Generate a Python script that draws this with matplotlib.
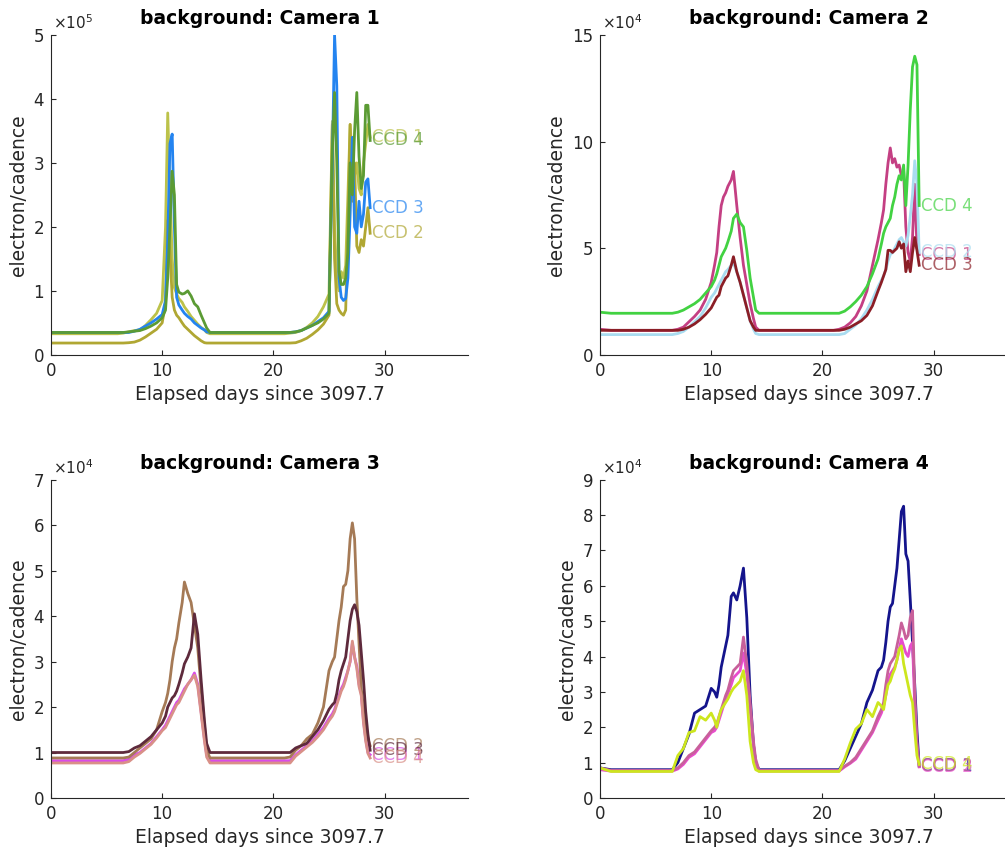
import numpy as np
import matplotlib.pyplot as plt

# elapsed days (shared by all panels)
days = [0, 1, 2, 3, 4, 5, 6, 6.5,
        7, 7.5, 8, 8.5, 9, 9.5, 10,
        10.3, 10.5, 10.7, 10.9, 11.1, 11.3, 11.5, 11.8,
        12, 12.3, 12.6, 12.9, 13.2, 13.5, 13.8, 14.0, 14.3,
        15, 16, 17, 18, 19, 20, 21, 21.5,
        22, 22.5, 23, 23.5, 24, 24.5, 25,
        25.3, 25.5, 25.7, 25.9, 26.1, 26.3, 26.5, 26.7, 26.9,
        27.1, 27.3, 27.5, 27.7, 27.9, 28.1, 28.3, 28.5, 28.7]

# background values, units of 1e4 electron/cadence
cam1_ccd1 = [3.3, 3.3, 3.3, 3.3, 3.3, 3.3, 3.3, 3.4,
             3.6, 3.8, 3.9, 4.6, 5.5, 6.5, 8.5,
             20, 37.8, 26, 15, 10.5, 9.5, 8.8, 8.2,
             7.5, 6.8, 6.0, 5.4, 4.8, 4.3, 3.9, 3.5, 3.3,
             3.3, 3.3, 3.3, 3.3, 3.3, 3.3, 3.3, 3.4,
             3.5, 3.8, 4.3, 5.0, 6.0, 7.5, 9.5,
             36.5, 20, 12, 10, 13, 12, 14, 25, 36,
             30, 28, 30, 26, 25, 30, 33, 36, 34]
cam1_ccd2 = [1.85, 1.85, 1.85, 1.85, 1.85, 1.85, 1.85, 1.85,
             1.9, 2.0, 2.3, 2.8, 3.4, 4.0, 5.0,
             8, 21, 16, 9, 7, 6.2, 5.8, 5.0,
             4.5, 4.0, 3.5, 3.0, 2.6, 2.2, 1.9, 1.85, 1.85,
             1.85, 1.85, 1.85, 1.85, 1.85, 1.85, 1.85, 1.85,
             1.9, 2.2, 2.6, 3.2, 3.9, 4.8, 6.2,
             36, 15, 8, 7, 6.5, 6.2, 7, 20, 36,
             24, 30, 17, 16, 18, 17, 20, 23, 19]
cam1_ccd3 = [3.5, 3.5, 3.5, 3.5, 3.5, 3.5, 3.5, 3.5,
             3.5, 3.7, 4.0, 4.5, 5.0, 5.6, 6.3,
             8.5, 18, 33, 34.5, 20, 9, 7.8, 7.0,
             6.5, 6.0, 5.6, 5.0, 4.6, 4.2, 3.9, 3.6, 3.5,
             3.5, 3.5, 3.5, 3.5, 3.5, 3.5, 3.5, 3.5,
             3.6, 3.8, 4.2, 4.6, 5.2, 5.8, 6.8,
             30, 50, 42, 12, 9, 8.5, 8.8, 12, 22,
             34, 20, 19, 24, 20, 22, 27, 27.5, 23]
cam1_ccd4 = [3.5, 3.5, 3.5, 3.5, 3.5, 3.5, 3.5, 3.5,
             3.6, 3.7, 3.8, 4.1, 4.5, 5.0, 5.8,
             7, 12, 20, 28.7, 25, 11, 9.8, 9.5,
             9.6, 10, 9.2, 8.0, 7.5, 6.2, 5.0, 4.2, 3.5,
             3.5, 3.5, 3.5, 3.5, 3.5, 3.5, 3.5, 3.5,
             3.6, 3.8, 4.2, 4.6, 5.0, 5.6, 6.5,
             32, 41, 30, 13, 11, 11, 12, 16, 30,
             25, 35, 41, 31, 26, 28, 39, 39, 33.5]

cam2_ccd1 = [1.2, 1.15, 1.15, 1.15, 1.15, 1.15, 1.15, 1.15,
             1.2, 1.3, 1.55, 1.8, 2.1, 2.6, 3.4,
             4.2, 4.8, 6.0, 7.0, 7.4, 7.6, 7.9, 8.2,
             8.6, 7.0, 5.5, 4.2, 3.3, 2.4, 1.7, 1.3, 1.15,
             1.15, 1.15, 1.15, 1.15, 1.15, 1.15, 1.15, 1.2,
             1.3, 1.5, 1.8, 2.3, 3.0, 4.2, 5.4,
             6.2, 6.8, 8.0, 9.0, 9.7, 9.0, 9.2, 8.8, 8.9,
             8.4, 8.6, 6.0, 4.8, 4.4, 5.5, 8.0, 5.0, 4.7]
cam2_ccd2 = [0.95, 0.95, 0.95, 0.95, 0.95, 0.95, 0.95, 0.95,
             1.0, 1.1, 1.3, 1.55, 1.8, 2.2, 2.7,
             2.9, 3.1, 3.3, 3.5, 3.7, 3.9, 4.0, 4.2,
             4.3, 3.9, 3.4, 2.8, 2.2, 1.6, 1.2, 1.0, 0.95,
             0.95, 0.95, 0.95, 0.95, 0.95, 0.95, 0.95, 0.95,
             1.0, 1.2, 1.4, 1.7, 2.1, 2.6, 3.2,
             3.5, 3.7, 4.0, 4.4, 4.7, 4.8, 5.0, 5.2, 5.4,
             5.5, 5.3, 5.1, 5.6, 6.5, 7.5, 9.1, 8.0, 4.8]
cam2_ccd3 = [1.15, 1.15, 1.15, 1.15, 1.15, 1.15, 1.15, 1.15,
             1.15, 1.2, 1.3, 1.45, 1.65, 1.9, 2.2,
             2.5, 2.7, 2.8, 3.2, 3.4, 3.6, 3.7, 4.2,
             4.6, 3.9, 3.4, 2.8, 2.2, 1.6, 1.3, 1.15, 1.15,
             1.15, 1.15, 1.15, 1.15, 1.15, 1.15, 1.15, 1.15,
             1.2, 1.3, 1.45, 1.6, 1.85, 2.3, 3.0,
             3.4, 3.7, 4.0, 4.9, 4.9, 4.8, 4.9, 5.0, 5.3,
             5.0, 5.2, 3.9, 4.4, 3.9, 4.8, 5.5, 4.9, 4.2]
cam2_ccd4 = [2.0, 1.95, 1.95, 1.95, 1.95, 1.95, 1.95, 1.95,
             2.0, 2.1, 2.25, 2.4, 2.6, 2.9, 3.2,
             3.5, 3.8, 4.2, 4.6, 4.8, 5.0, 5.3, 5.8,
             6.4, 6.6, 6.2, 6.0, 4.9, 3.6, 2.7, 2.1, 1.95,
             1.95, 1.95, 1.95, 1.95, 1.95, 1.95, 1.95, 1.95,
             2.05, 2.25, 2.5, 2.8, 3.2, 3.8, 4.5,
             5.2, 5.7, 6.0, 6.2, 6.4, 7.0, 7.4, 8.0, 8.4,
             8.2, 8.9, 7.0, 8.9, 11.5, 13.5, 14.0, 13.6, 7.0]

cam3_ccd1 = [0.82, 0.82, 0.82, 0.82, 0.82, 0.82, 0.82, 0.82,
             0.85, 0.95, 1.0, 1.1, 1.2, 1.35, 1.5,
             1.6, 1.7, 1.8, 1.9, 2.0, 2.1, 2.15, 2.3,
             2.4, 2.5, 2.6, 2.75, 2.5, 1.9, 1.3, 0.95, 0.82,
             0.82, 0.82, 0.82, 0.82, 0.82, 0.82, 0.82, 0.82,
             0.95, 1.05, 1.15, 1.25, 1.4, 1.55, 1.75,
             1.85, 1.95, 2.1, 2.25, 2.4, 2.5, 2.65, 2.8, 3.0,
             3.4, 3.1, 2.9, 2.5, 2.3, 1.7, 1.3, 1.0, 0.95]
cam3_ccd2 = [0.88, 0.88, 0.88, 0.88, 0.88, 0.88, 0.88, 0.88,
             0.9, 1.0, 1.1, 1.2, 1.3, 1.5, 1.9,
             2.1, 2.3, 2.6, 3.0, 3.3, 3.5, 3.85, 4.3,
             4.75, 4.5, 4.3, 3.8, 3.3, 2.4, 1.6, 1.05, 0.88,
             0.88, 0.88, 0.88, 0.88, 0.88, 0.88, 0.88, 0.9,
             1.05, 1.15, 1.3, 1.4, 1.65, 2.0, 2.8,
             3.0, 3.1, 3.5, 3.9, 4.2, 4.65, 4.7, 5.0, 5.7,
             6.05, 5.7, 4.4, 3.4, 2.4, 2.0, 1.6, 1.3, 1.15]
cam3_ccd3 = [1.0, 1.0, 1.0, 1.0, 1.0, 1.0, 1.0, 1.0,
             1.02, 1.1, 1.15, 1.25, 1.35, 1.5, 1.65,
             1.8, 2.0, 2.1, 2.2, 2.25, 2.35, 2.5, 2.75,
             2.95, 3.1, 3.3, 4.05, 3.6, 2.6, 1.7, 1.2, 1.0,
             1.0, 1.0, 1.0, 1.0, 1.0, 1.0, 1.0, 1.0,
             1.1, 1.15, 1.2, 1.35, 1.5, 1.7, 1.95,
             2.05, 2.1, 2.3, 2.6, 2.8, 2.95, 3.1, 3.5, 3.9,
             4.15, 4.25, 4.1, 3.8, 3.2, 2.6, 1.9, 1.4, 1.05]
cam3_ccd4 = [0.77, 0.77, 0.77, 0.77, 0.77, 0.77, 0.77, 0.77,
             0.8, 0.9, 0.98, 1.08, 1.18, 1.32, 1.48,
             1.55, 1.65, 1.75, 1.85, 1.95, 2.05, 2.1, 2.25,
             2.35, 2.5, 2.6, 2.7, 2.45, 1.85, 1.25, 0.9, 0.77,
             0.77, 0.77, 0.77, 0.77, 0.77, 0.77, 0.77, 0.77,
             0.92, 1.02, 1.12, 1.22, 1.35, 1.5, 1.7,
             1.8, 1.9, 2.05, 2.2, 2.35, 2.45, 2.6, 2.8, 3.0,
             3.45, 3.1, 2.85, 2.45, 2.25, 1.65, 1.25, 0.98, 0.88]

cam4_ccd1 = [0.85, 0.8, 0.8, 0.8, 0.8, 0.8, 0.8, 0.8,
             1.0, 1.4, 1.8, 2.4, 2.5, 2.6, 3.1,
             3.0, 2.85, 3.2, 3.7, 4.0, 4.3, 4.6, 5.7,
             5.8, 5.6, 6.0, 6.5, 5.1, 2.9, 1.5, 1.0, 0.8,
             0.8, 0.8, 0.8, 0.8, 0.8, 0.8, 0.8, 0.8,
             1.05, 1.4, 1.75, 2.1, 2.7, 3.05, 3.6,
             3.7, 3.9, 4.4, 5.0, 5.4, 5.5, 6.0, 6.5, 7.3,
             8.1, 8.25, 6.9, 6.7, 5.6, 4.4, 3.2, 1.9, 0.9]
cam4_ccd2 = [0.8, 0.76, 0.76, 0.76, 0.76, 0.76, 0.76, 0.76,
             0.82, 0.95, 1.15, 1.25, 1.45, 1.65, 1.85,
             1.9, 2.0, 2.2, 2.4, 2.6, 2.8, 2.95, 3.2,
             3.4, 3.5, 3.6, 4.1, 3.5, 2.5, 1.5, 1.0, 0.76,
             0.76, 0.76, 0.76, 0.76, 0.76, 0.76, 0.76, 0.76,
             0.88, 0.98, 1.1, 1.35, 1.6, 1.85, 2.2,
             2.4, 2.6, 2.9, 3.3, 3.5, 3.6, 3.7, 3.9, 4.2,
             4.5, 4.3, 4.1, 4.0, 4.3, 4.4, 2.6, 1.4, 0.88]
cam4_ccd3 = [0.85, 0.78, 0.78, 0.78, 0.78, 0.78, 0.78, 0.78,
             0.85, 1.0, 1.2, 1.3, 1.5, 1.7, 1.9,
             2.0, 2.1, 2.3, 2.5, 2.7, 2.9, 3.05, 3.4,
             3.6, 3.7, 3.8, 4.55, 3.8, 2.7, 1.6, 1.1, 0.78,
             0.78, 0.78, 0.78, 0.78, 0.78, 0.78, 0.78, 0.78,
             0.9, 1.0, 1.15, 1.4, 1.65, 1.9, 2.3,
             2.5, 2.7, 3.2, 3.6, 3.8, 3.9, 4.0, 4.3, 4.6,
             4.95, 4.75, 4.5, 4.6, 5.1, 5.3, 3.0, 1.6, 0.9]
cam4_ccd4 = [0.85, 0.75, 0.75, 0.75, 0.75, 0.75, 0.75, 0.75,
             1.2, 1.4, 1.85, 1.9, 2.3, 2.2, 2.4,
             2.2, 2.0, 2.3, 2.5, 2.6, 2.7, 2.8, 3.0,
             3.1, 3.2, 3.3, 3.6, 2.9, 1.6, 1.0, 0.8, 0.75,
             0.75, 0.75, 0.75, 0.75, 0.75, 0.75, 0.75, 0.75,
             1.1, 1.55, 1.95, 2.1, 2.5, 2.3, 2.7,
             2.6, 2.5, 2.9, 3.2, 3.3, 3.5, 3.65, 3.9, 4.2,
             4.3, 3.8, 3.5, 3.2, 2.9, 2.7, 1.9, 1.2, 0.95]

ccd_names = ['CCD 1', 'CCD 2', 'CCD 3', 'CCD 4']
titles = ['background: Camera 1', 'background: Camera 2',
          'background: Camera 3', 'background: Camera 4']
series = [[cam1_ccd1, cam1_ccd2, cam1_ccd3, cam1_ccd4],
          [cam2_ccd1, cam2_ccd2, cam2_ccd3, cam2_ccd4],
          [cam3_ccd1, cam3_ccd2, cam3_ccd3, cam3_ccd4],
          [cam4_ccd1, cam4_ccd2, cam4_ccd3, cam4_ccd4]]
colors = [['#bcc24a', '#b0a733', '#2484f0', '#5b9b34'],
          ['#c43f83', '#a9dcf0', '#8b1e26', '#42d242'],
          ['#d94ce8', '#a57a56', '#5e2a3c', '#d99088'],
          ['#14148c', '#e84ccc', '#c8609a', '#cde61e']]
exponents = [5, 4, 4, 4]
yticks = [[0, 1, 2, 3, 4, 5], [0, 5, 10, 15],
          [0, 1, 2, 3, 4, 5, 6, 7], [0, 1, 2, 3, 4, 5, 6, 7, 8, 9]]

positions = [[0.0507, 0.583, 0.415, 0.376], [0.597, 0.583, 0.415, 0.376],
             [0.0507, 0.0623, 0.415, 0.374], [0.597, 0.0623, 0.415, 0.374]]

axcol = '#262626'
fig = plt.figure(figsize=(10.05, 8.51), dpi=100)
x = np.array(days)

for k in range(4):
    ax = fig.add_axes(positions[k])
    scale = 10.0**exponents[k]
    for j in range(4):
        y = np.array(series[k][j]) * 1e4
        ax.plot(x, y, color=colors[k][j], lw=2.0)
        ax.text(x[-1] + 0.2, y[-1], ccd_names[j], color=colors[k][j],
                alpha=0.7, fontsize=12, va='center', ha='left')
    ax.set_xlim(0, 37.5)
    ax.set_ylim(0, yticks[k][-1] * scale)
    ax.set_xticks([0, 10, 20, 30])
    ax.set_yticks([t * scale for t in yticks[k]])
    ax.set_yticklabels([str(t) for t in yticks[k]])
    ax.spines['top'].set_visible(False)
    ax.spines['right'].set_visible(False)
    for s in ['left', 'bottom']:
        ax.spines[s].set_color(axcol)
        ax.spines[s].set_linewidth(0.8)
    ax.tick_params(direction='in', length=3.5, width=0.8, colors=axcol,
                   labelsize=12, pad=5)
    ax.set_xlabel('Elapsed days since 3097.7', fontsize=13.5, color=axcol)
    ax.set_ylabel('electron/cadence', fontsize=13.5, color=axcol)
    ax.set_title(titles[k], fontsize=13.5, fontweight='bold', pad=8)
    ax.text(0.005, 1.008, r'$\times10^{%d}$' % exponents[k],
            transform=ax.transAxes, ha='left', va='bottom',
            fontsize=11, color=axcol)

fig.savefig('out.png', dpi=100)
